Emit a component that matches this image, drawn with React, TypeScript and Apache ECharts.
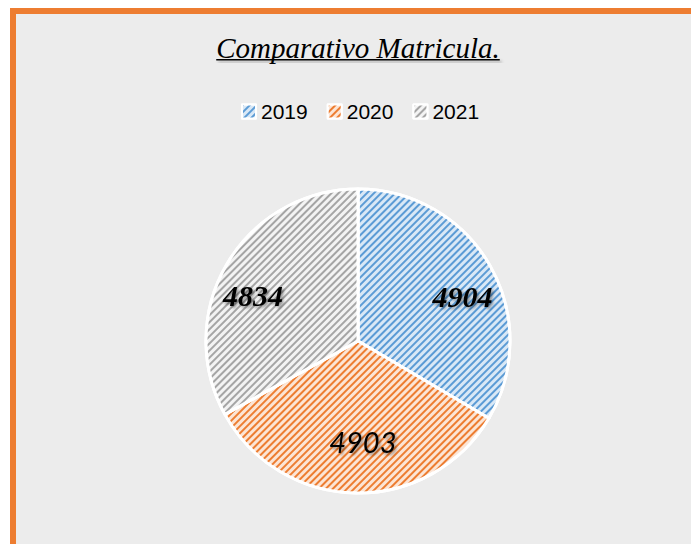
import React, { useEffect, useRef } from "react";
import * as echarts from "echarts";

const categories = ["2019", "2020", "2021"];
const values = [4904, 4903, 4834];
const titleText = "Comparativo Matricula.";

const lineColors = ["#5B9BD5", "#ED7D31", "#A5A5A5"];
const baseColors = ["#D9E8F6", "#FCE5D5", "#F3F3F3"];
const labelShift = [
  [36, -5],
  [6, 22],
  [-37, -5],
];
const labelFonts = [
  { fontFamily: "Liberation Serif", fontWeight: "bold", fontSize: 30 },
  { fontFamily: "Lato", fontWeight: "normal", fontSize: 29 },
  { fontFamily: "Liberation Serif", fontWeight: "bold", fontSize: 30 },
];

export default function App() {
  const ref = useRef<HTMLDivElement>(null);
  useEffect(() => {
    if (!ref.current) return;
    const chart = echarts.init(ref.current, null, { renderer: "svg" });
    const titleFont = 'italic 29px "Liberation Serif"';
    let tw = 280;
    try {
      const c = document.createElement("canvas").getContext("2d");
      if (c) {
        c.font = titleFont;
        tw = c.measureText(titleText).width;
      }
    } catch (e) {}
    const cx = 358;
    const data = categories.map((name, i) => ({
      name,
      value: values[i],
      itemStyle: {
        color: baseColors[i],
        decal: {
          symbol: "rect",
          color: lineColors[i],
          dashArrayX: [1, 0],
          dashArrayY: [1.4, 2.4],
          rotation: -Math.PI / 4,
        },
      },
      label: { ...labelFonts[i] },
    }));
    chart.setOption({
      animation: false,
      graphic: [
        {
          type: "text",
          x: cx,
          y: 48,
          style: {
            text: titleText,
            font: titleFont,
            fill: "#000",
            align: "center",
            verticalAlign: "middle",
            shadowColor: "rgba(0,0,0,0.35)",
            shadowBlur: 3,
            shadowOffsetX: 2,
            shadowOffsetY: 2,
          },
        },
        {
          type: "rect",
          shape: { x: cx - tw / 2, y: 59, width: tw, height: 1.6 },
          style: {
            fill: "#000",
            shadowColor: "rgba(0,0,0,0.35)",
            shadowBlur: 3,
            shadowOffsetX: 2,
            shadowOffsetY: 2,
          },
        },
      ],
      legend: {
        data: categories,
        left: 236,
        top: 96,
        icon: "rect",
        itemWidth: 14,
        itemHeight: 14,
        itemGap: 19,
        textStyle: {
          fontFamily: "Liberation Sans",
          fontSize: 21,
          color: "#000",
        },
        itemStyle: { borderColor: "#fff", borderWidth: 2 },
      },
      series: [
        {
          type: "pie",
          center: [cx, 341],
          radius: 152,
          startAngle: 90,
          clockwise: true,
          data,
          itemStyle: { borderColor: "#fff", borderWidth: 3 },
          label: {
            show: true,
            position: "inside",
            formatter: "{c}",
            fontFamily: "Liberation Serif",
            fontStyle: "italic",
            fontWeight: "bold",
            fontSize: 30,
            color: "#000",
            textShadowColor: "rgba(0,0,0,0.4)",
            textShadowBlur: 3,
            textShadowOffsetX: 2,
            textShadowOffsetY: 2,
          },
          labelLayout: (p: any) => ({
            dx: labelShift[p.dataIndex][0],
            dy: labelShift[p.dataIndex][1],
          }),
          labelLine: { show: false },
          emphasis: { disabled: true },
        },
      ],
    });
    return () => chart.dispose();
  }, []);
  return (
    <div style={{ position: "fixed", left: 0, top: 0, width: 691, height: 544, overflow: "hidden", background: "#fff" }}>
      <div
        style={{
          position: "absolute",
          left: 10,
          top: 8,
          width: 700,
          height: 560,
          background: "#ECECEC",
          borderTop: "6px solid #ED7D31",
          borderLeft: "6px solid #ED7D31",
        }}
      />
      <div ref={ref} style={{ position: "absolute", left: 0, top: 0, width: 691, height: 544 }} />
    </div>
  );
}
